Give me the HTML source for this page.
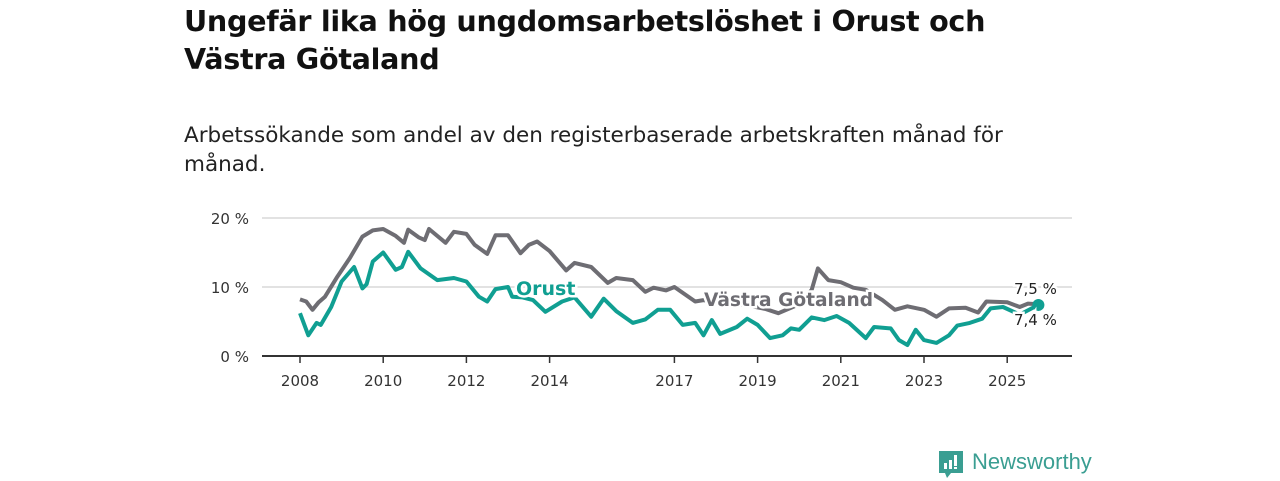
<!DOCTYPE html>
<html><head><meta charset="utf-8"><style>
body{margin:0;width:1280px;height:480px;background:#fff;font-family:"DejaVu Sans","Liberation Sans",sans-serif;overflow:hidden;position:relative}
h1{position:absolute;left:184px;top:2px;margin:0;font-size:28.6px;line-height:38px;font-weight:bold;color:#111;letter-spacing:-0.3px}
p.sub{position:absolute;left:184px;top:121px;margin:0;font-size:21.5px;line-height:29px;color:#222}
svg{position:absolute;left:0;top:0}
svg text{font-family:"DejaVu Sans","Liberation Sans",sans-serif}
</style></head><body>
<h1>Ungefär lika hög ungdomsarbetslöshet i Orust och<br>Västra Götaland</h1>
<p class="sub">Arbetssökande som andel av den registerbaserade arbetskraften månad för<br>månad.</p>
<svg id="chart" width="1280" height="480"></svg>
<script>
const yTicks=[0,10,20];
const yTickLabels=["0 %","10 %","20 %"];
const xTicks=[2008,2010,2012,2014,2017,2019,2021,2023,2025];
const vgDates=[2008.0,2008.15,2008.3,2008.45,2008.6,2008.9,2009.2,2009.5,2009.75,2010.0,2010.3,2010.5,2010.6,2010.85,2011.0,2011.1,2011.5,2011.7,2012.0,2012.2,2012.5,2012.7,2013.0,2013.3,2013.5,2013.7,2014.0,2014.4,2014.6,2015.0,2015.4,2015.6,2016.0,2016.3,2016.5,2016.8,2017.0,2017.5,2017.7,2018.2,2018.7,2019.2,2019.5,2020.0,2020.3,2020.45,2020.7,2021.0,2021.3,2021.6,2022.0,2022.3,2022.6,2023.0,2023.3,2023.6,2024.0,2024.3,2024.5,2025.0,2025.3,2025.5,2025.75];
const vgValues=[8.2,7.9,6.7,7.8,8.6,11.5,14.2,17.3,18.2,18.4,17.4,16.4,18.3,17.2,16.8,18.4,16.4,18.0,17.7,16.1,14.8,17.5,17.5,14.9,16.1,16.6,15.2,12.4,13.5,12.9,10.6,11.3,11.0,9.3,9.9,9.5,10.0,7.9,8.1,7.6,7.4,6.8,6.2,7.5,9.6,12.7,11.0,10.7,9.9,9.6,8.1,6.7,7.2,6.7,5.7,6.9,7.0,6.3,7.9,7.8,7.1,7.6,7.5];
const orDates=[2008.0,2008.2,2008.4,2008.5,2008.75,2009.0,2009.3,2009.5,2009.6,2009.75,2010.0,2010.3,2010.45,2010.6,2010.9,2011.3,2011.7,2012.0,2012.3,2012.5,2012.7,2013.0,2013.1,2013.35,2013.6,2013.9,2014.3,2014.6,2015.0,2015.3,2015.6,2016.0,2016.3,2016.6,2016.9,2017.2,2017.5,2017.7,2017.9,2018.1,2018.5,2018.75,2019.0,2019.3,2019.6,2019.8,2020.0,2020.3,2020.6,2020.9,2021.2,2021.6,2021.8,2022.2,2022.4,2022.6,2022.8,2023.0,2023.3,2023.6,2023.8,2024.1,2024.4,2024.6,2024.9,2025.3,2025.75];
const orValues=[6.2,3.0,4.8,4.5,7.1,10.8,12.9,9.8,10.4,13.7,15.0,12.5,12.9,15.1,12.7,11.0,11.3,10.8,8.6,7.9,9.7,10.0,8.6,8.5,8.1,6.4,7.9,8.5,5.7,8.3,6.5,4.8,5.3,6.7,6.7,4.5,4.8,3.0,5.2,3.2,4.2,5.4,4.5,2.6,3.0,4.0,3.8,5.6,5.2,5.8,4.8,2.6,4.2,4.0,2.3,1.6,3.8,2.3,1.9,3.0,4.4,4.8,5.4,6.9,7.1,6.0,7.4];
const X=d=>300+(d-2008)*41.6;
const Y=v=>356-v*6.9;
const svg=document.getElementById('chart');
const NS='http://www.w3.org/2000/svg';
function mk(tag,attrs,parent){const e=document.createElementNS(NS,tag);for(const k in attrs)e.setAttribute(k,attrs[k]);(parent||svg).appendChild(e);return e;}
yTicks.forEach((t,i)=>{
  if(t>0){const g=mk('line',{x1:262,x2:1072,y1:Y(t),y2:Y(t),stroke:'#d8d8d8','stroke-width':1.5});
  
  }
  const l=mk('text',{x:249,y:Y(t)+6,'text-anchor':'end','font-size':15,fill:'#333'});l.textContent=yTickLabels[i];
  
  
});
const ax=mk('line',{x1:262,x2:1072,y1:356,y2:356,stroke:'#333','stroke-width':2});


xTicks.forEach(t=>{
  const tk=mk('line',{x1:X(t),x2:X(t),y1:356,y2:363,stroke:'#333','stroke-width':1.5});
  
  
  const l=mk('text',{x:X(t),y:386,'text-anchor':'middle','font-size':15,fill:'#333'});l.textContent=t;
  
  
});
function line(d,v,col,name){
  const p=mk('path',{d:d.map((x,i)=>(i?'L':'M')+X(x).toFixed(1)+','+Y(v[i]).toFixed(1)).join(''),fill:'none',stroke:col,'stroke-width':4,'stroke-linejoin':'round'});
  
  
}
line(vgDates,vgValues,'#6e6d73','line-vastra-gotaland');
line(orDates,orValues,'#109f92','line-orust');
const dv=mk('circle',{cx:X(vgDates[vgDates.length-1]),cy:Y(vgValues[vgValues.length-1]),r:5,fill:'#6e6d73'});


const dor=mk('circle',{cx:X(orDates[orDates.length-1]),cy:Y(orValues[orValues.length-1]),r:6,fill:'#109f92'});


function lbl(x,y,t,col,w,sz,name){
  const e=mk('text',{x:x,y:y,'font-size':sz,'font-weight':w,fill:col,stroke:'#fff','stroke-width':5,'paint-order':'stroke'});e.textContent=t;
  
  
}
lbl(516,295,'Orust','#109f92','bold',19,'series-label-orust');
lbl(704,306,'Västra Götaland','#6e6d73','bold',18.6,'series-label-vastra-gotaland');
lbl(1014,294,'7,5 %','#222','normal',15,'value-label-vastra-gotaland');
lbl(1014,325,'7,4 %','#222','normal',15,'value-label-orust');
</script>
<svg width="30" height="32" style="left:937px;top:449px">
<path d="M2 2h24v22h-12l-4 5-2-5h-6z" fill="#3a9e92"/>
<rect x="7" y="14" width="3" height="6" fill="#fff"/><rect x="12" y="11" width="3" height="9" fill="#fff"/><rect x="17" y="6" width="3" height="11" fill="#fff"/><rect x="17" y="18" width="3" height="2" fill="#fff"/>
</svg>
<div style="position:absolute;left:972px;top:449px;font-family:'Liberation Sans',sans-serif;font-size:22px;color:#3a9e92;line-height:26px">Newsworthy</div>
</body></html>
